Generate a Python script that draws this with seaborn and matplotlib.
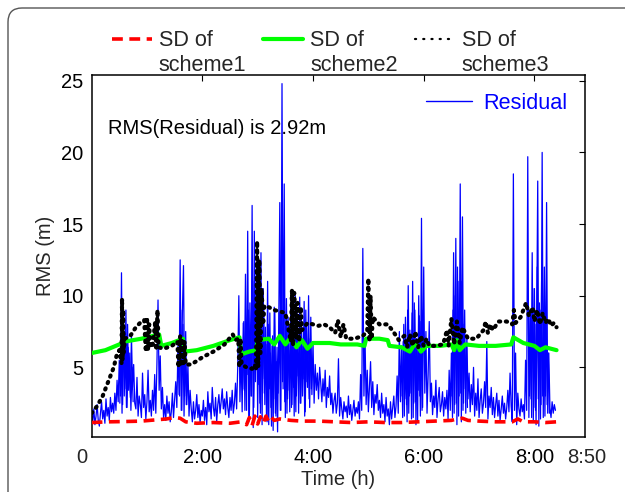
import numpy as np
import pandas as pd
import matplotlib
matplotlib.use("Agg")
import matplotlib.pyplot as plt
import seaborn as sns
from matplotlib.lines import Line2D
from matplotlib.patches import FancyBboxPatch
from matplotlib.transforms import IdentityTransform

sns.set_theme(style="white")
plt.rcParams['font.family'] = ['Liberation Sans', 'DejaVu Sans']

# ---------------- data (hours / metres) ----------------
res_step_h = 0.02
res_v = [
    1.7, 1.2, 2.1, 1.0, 1.6, 2.4, 1.3, 0.9, 1.8, 2.6, 1.4, 2.0, 1.1, 2.8, 1.6, 2.2, 1.3, 2.9, 1.9, 2.5,
    1.8, 3.2, 2.0, 4.1, 2.6, 5.5, 3.0, 11.6, 2.4, 7.8, 3.5, 9.0, 2.2, 6.4, 4.8, 2.9, 7.2, 3.6, 5.2, 2.5,
    2.1, 4.3, 1.6, 3.0, 2.4, 1.5, 4.6, 2.2, 3.1, 1.4, 2.6, 4.8, 1.9, 2.7, 1.6, 3.4, 2.0, 4.5, 1.8, 5.2,
    9.7, 3.4, 5.8, 2.1, 3.6, 1.5, 2.4, 1.3, 3.0, 1.8, 2.6, 1.2, 1.9, 3.2, 1.5, 2.8, 4.0, 2.2, 6.5, 3.1,
    12.5, 2.0, 8.8, 12.1, 3.0, 7.5, 2.4, 5.2, 1.6, 3.4, 2.1, 1.2, 2.6, 1.4, 2.0, 3.1, 1.5, 2.4, 1.1, 2.0,
    1.6, 2.7, 1.3, 2.2, 1.0, 3.3, 1.9, 2.5, 1.4, 3.6, 2.2, 1.6, 2.9, 1.2, 2.4, 3.1, 1.8, 2.6, 3.5, 2.1,
    2.8, 1.7, 3.3, 2.2, 1.5, 2.9, 2.0, 3.4, 1.8, 2.5, 3.9, 2.1, 5.0, 10.0, 2.6, 6.2, 1.9, 8.1, 3.4, 11.5,
    2.0, 14.5, 1.2, 9.5, 3.0, 16.3, 0.8, 14.5, 4.0, 12.0, 1.5, 8.5, 2.5, 13.0, 1.0, 10.5, 3.2, 7.8, 1.4, 11.0,
    1.0, 8.8, 2.2, 6.5, 0.6, 9.2, 1.8, 5.4, 0.5, 7.5, 16.5, 2.0, 24.8, 3.5, 17.8, 1.5, 9.8, 2.8, 8.0, 1.9,
    9.5, 2.4, 7.2, 1.6, 10.0, 3.0, 8.4, 1.8, 9.9, 2.5, 6.5, 4.2, 9.6, 1.9, 8.0, 3.6, 10.0, 2.2, 8.5, 3.1,
    6.8, 2.5, 5.2, 3.4, 4.6, 2.8, 5.0, 3.9, 2.6, 4.2, 3.0, 4.8, 2.2, 3.6, 2.9, 4.4, 2.4, 3.2, 1.8, 2.7,
    3.2, 1.8, 2.5, 5.6, 1.6, 2.9, 2.1, 1.4, 2.6, 1.9, 2.3, 1.5, 3.0, 1.7, 2.4, 1.3, 2.0, 2.7, 1.6, 2.2,
    1.8, 2.6, 1.4, 4.5, 2.0, 13.3, 3.0, 7.0, 2.4, 4.8, 1.9, 3.6, 5.4, 2.2, 4.0, 1.7, 3.1, 2.5, 3.8, 2.0,
    2.7, 1.5, 3.2, 1.8, 2.4, 1.2, 2.9, 1.6, 2.1, 1.0, 2.6, 1.4, 2.2, 3.0, 1.5, 2.3, 4.4, 1.8, 7.5, 2.6,
    6.5, 1.5, 8.0, 2.8, 5.2, 1.2, 10.7, 3.0, 7.2, 1.4, 11.0, 2.5, 9.0, 1.0, 6.4, 3.4, 8.6, 1.6, 15.4, 2.2,
    12.0, 3.2, 7.5, 1.8, 4.5, 8.2, 2.6, 3.9, 1.7, 3.0, 2.2, 4.1, 1.5, 2.8, 3.6, 1.9, 2.4, 3.3, 1.6, 2.9,
    2.1, 3.4, 1.4, 4.8, 2.0, 6.0, 1.5, 13.0, 2.4, 14.0, 1.0, 11.0, 3.0, 17.8, 1.2, 15.5, 2.5, 9.0, 1.8, 7.2,
    2.8, 4.6, 1.9, 3.8, 2.4, 5.0, 1.6, 3.2, 2.0, 4.2, 1.5, 2.7, 3.5, 1.8, 2.5, 4.0, 2.2, 6.8, 1.4, 3.0,
    2.2, 3.6, 1.7, 2.9, 1.5, 2.4, 3.2, 1.6, 2.7, 1.3, 2.1, 3.0, 1.8, 2.5, 1.4, 2.2, 3.4, 1.9, 4.6, 2.3,
    1.2, 18.5, 2.0, 6.0, 1.0, 3.2, 2.1, 1.6, 2.8, 1.9, 2.4, 1.4, 5.5, 2.0, 19.7, 1.5, 8.5, 2.8, 13.0, 1.2,
    10.5, 2.0, 7.5, 18.0, 0.9, 9.0, 2.4, 20.0, 1.5, 12.0, 3.0, 16.5, 1.8, 6.0, 2.2, 1.5, 2.6, 1.8, 2.4, 2.0,
]
res_t = np.arange(len(res_v)) * res_step_h

# extra residual samples (between the main samples) inside the busy stretches
dense_step_h = 0.02
dense_a_start, dense_a_v = 2.71, [
    6.0, 3.5, 8.2, 2.0, 7.0, 4.5, 9.0, 1.5, 6.8, 3.0, 11.0, 2.2, 8.0, 5.0, 9.5,
    3.8, 8.6, 1.8, 7.4, 4.2, 9.0, 2.4, 6.6, 1.2, 8.0, 3.5, 6.0, 0.9, 7.2, 2.8,
    9.0, 1.6, 6.4, 3.2, 8.8, 2.0, 12.0, 4.0, 9.5, 2.6, 7.5, 1.8, 8.5, 3.4, 6.2,
    2.2, 8.8, 3.6, 7.0, 1.9, 9.2, 4.4, 6.0, 2.5, 8.4, 3.0, 7.6, 1.6, 9.0, 4.0,
    6.5, 2.8, 7.0, 3.5, 5.5]
dense_b_start, dense_b_v = 5.61, [
    3.0, 6.8, 1.6, 8.5, 2.4, 9.0, 1.8, 7.6, 3.2, 8.8, 1.5, 9.5, 2.6, 7.0, 1.2, 10.0, 3.0, 8.2, 2.0, 9.0]
dense_c_start, dense_c_v = 6.51, [
    3.0, 9.0, 1.8, 10.0, 2.5, 12.0, 1.6, 9.5, 3.2, 11.0, 2.0, 8.0, 3.5, 6.5, 2.2]
dense_d_start, dense_d_v = 7.91, [
    3.0, 9.0, 1.5, 10.5, 2.2, 8.0, 1.0, 12.0, 2.8, 9.5, 1.4, 11.0, 3.0, 8.5, 1.6, 9.0, 2.4, 6.0, 1.8]
dense_e_start, dense_e_v = 0.51, [
    2.5, 7.0, 1.8, 8.5, 3.0, 6.5, 2.2, 8.0, 3.4, 6.0, 2.0, 5.0, 2.6]
dense_f_start, dense_f_v = 1.59, [3.0, 9.0, 2.0, 8.0, 1.6, 6.5, 2.4, 4.0]

sd1_t = [0, 0.3, 0.6, 0.9, 1.2, 1.35, 1.5, 1.6, 1.7, 1.9, 2.2, 2.5, 2.7, 2.8, 2.85, 2.9, 2.95, 3.0,
         3.05, 3.1, 3.15, 3.2, 3.25, 3.3, 3.4, 3.5, 3.6, 3.8, 4.1, 4.4, 4.7, 5.0, 5.3, 5.6, 5.9, 6.2,
         6.5, 6.6, 6.7, 6.8, 7.0, 7.3, 7.6, 7.7, 7.8, 8.0, 8.2, 8.4]
sd1_v = [1.15, 1.2, 1.22, 1.25, 1.35, 1.4, 1.5, 1.45, 1.2, 1.1, 1.15, 1.1, 1.2, 1.0, 1.5, 0.95,
         1.6, 1.05, 1.55, 1.1, 1.6, 1.2, 1.5, 1.3, 1.4, 1.35, 1.3, 1.25, 1.25, 1.2, 1.15, 1.2,
         1.15, 1.15, 1.2, 1.25, 1.3, 1.4, 1.45, 1.3, 1.25, 1.2, 1.2, 1.4, 1.2, 1.2, 1.15, 1.2]

sd2_t = [0, 0.25, 0.5, 0.6, 0.9, 1.22, 1.26, 1.45, 1.65, 1.68, 1.9, 2.2, 2.5, 2.67, 2.7, 2.85,
         2.97, 3.0, 3.2, 3.3, 3.4, 3.5, 3.6, 3.7, 3.8, 3.9, 4.0, 4.3, 4.5, 4.8, 4.93, 4.96, 5.2,
         5.35, 5.38, 5.6, 5.75, 5.85, 5.95, 6.05, 6.3, 6.5, 6.55, 6.6, 6.65, 6.75, 7.0, 7.3, 7.58,
         7.62, 7.8, 8.0, 8.1, 8.2, 8.4]
sd2_v = [6.0, 6.2, 6.6, 6.8, 7.0, 7.3, 6.5, 6.7, 7.0, 6.1, 6.2, 6.5, 6.9, 7.1, 5.9, 6.1,
         6.2, 6.9, 7.0, 6.6, 7.2, 6.6, 7.1, 6.4, 6.9, 6.3, 6.7, 6.7, 6.6, 6.6, 6.5, 7.0, 7.0,
         6.9, 6.5, 6.4, 6.1, 6.7, 6.1, 6.5, 6.5, 6.6, 6.2, 6.9, 6.2, 6.6, 6.5, 6.5, 6.6,
         7.1, 6.7, 6.5, 6.2, 6.4, 6.2]

sd3_t = [0.0, 0.1, 0.2, 0.3, 0.4, 0.45, 0.5,
         0.54, 0.55, 0.56, 0.57, 0.58, 0.6,
         0.7, 0.8, 0.9, 0.95,
         0.98, 1.0, 1.02, 1.04, 1.06,
         1.1, 1.15, 1.17, 1.19, 1.21,
         1.3, 1.45, 1.55,
         1.57, 1.6, 1.62, 1.64, 1.66, 1.68, 1.7,
         1.8, 2.0, 2.2, 2.4, 2.55, 2.6, 2.65,
         2.67, 2.69, 2.71,
         2.8, 2.9, 2.95,
         2.97, 2.99, 3.01, 3.03, 3.05, 3.07, 3.1, 3.12,
         3.2, 3.3, 3.4, 3.5,
         3.6, 3.62, 3.64, 3.66, 3.7, 3.72, 3.75, 3.78, 3.8,
         3.9, 4.0, 4.1, 4.2, 4.3,
         4.4, 4.45, 4.5, 4.55, 4.6, 4.75, 4.9, 4.98,
         5.0, 5.02, 5.04, 5.06, 5.08,
         5.2, 5.35, 5.45, 5.55,
         5.65, 5.7, 5.75, 5.8, 5.85, 5.9, 5.95, 6.0, 6.05, 6.1,
         6.2, 6.35,
         6.42, 6.45, 6.5, 6.55, 6.6, 6.65, 6.7,
         6.8, 6.95,
         7.08, 7.12, 7.16, 7.2, 7.25,
         7.35, 7.5, 7.6, 7.63, 7.66, 7.75, 7.85, 7.9,
         7.97, 8.0, 8.05, 8.1, 8.15, 8.2, 8.25, 8.3, 8.35, 8.4]
sd3_v = [1.8, 2.3, 3.0, 4.0, 5.0, 5.8, 6.2,
         5.3, 9.8, 5.5, 9.0, 6.0, 7.0,
         7.2, 7.8, 8.2, 8.3,
         6.1, 8.5, 6.2, 8.0, 6.5,
         6.4, 8.2, 6.2, 9.0, 6.4,
         6.3, 6.5, 6.8,
         5.0, 7.2, 5.1, 7.0, 5.3, 6.8, 5.2,
         5.2, 5.7, 6.1, 6.6, 7.3, 6.9, 7.0,
         5.0, 7.0, 5.2,
         5.0, 4.9, 5.2,
         4.8, 13.8, 5.0, 12.5, 6.0, 10.5, 8.0, 9.3,
         9.2, 9.0, 8.9, 8.8,
         6.8, 10.4, 6.5, 10.2, 7.0, 9.5, 6.8, 9.2, 7.6,
         8.1, 8.0, 7.9, 8.0, 7.8,
         7.4, 8.3, 7.1, 8.0, 7.0, 7.0, 7.2, 7.5,
         11.2, 6.8, 10.0, 7.0, 8.5,
         8.0, 8.0, 7.5, 6.9,
         7.2, 6.4, 7.3, 6.5, 7.5, 6.4, 7.2, 6.5, 7.0, 6.5,
         6.5, 6.6,
         7.6, 6.5, 8.4, 6.6, 8.2, 6.7, 7.8,
         7.0, 7.0,
         7.6, 8.2, 7.4, 8.0, 7.6,
         8.2, 8.2, 8.0, 9.0, 8.1, 8.5, 9.5, 8.6,
         9.2, 8.2, 9.0, 8.0, 8.8, 8.1, 8.4, 7.9, 8.1, 7.8]

legend_labels = ["SD of\nscheme1", "SD of\nscheme2", "SD of\nscheme3"]
resid_label = "Residual"
rms_text = "RMS(Residual) is 2.92m"
xtick_pos = [2, 4, 6, 8]
xtick_lab = ["2:00", "4:00", "6:00", "8:00"]
ytick_pos = [5, 10, 15, 20, 25]

# ---------------- figure ----------------
FS = 14.5
LFS = 15.6
W, H = 625, 492
fig = plt.figure(figsize=(W / 100, H / 100), dpi=100)
fig.patch.set_facecolor("white")
ax = fig.add_axes([91.6 / W, 1 - 437.3 / H, (585 - 91.6) / W, (437.3 - 75.3) / H])
ax.set_facecolor("white")

BLUE, RED, GREEN = "#0000ff", "#ff0000", "#00ff00"
red_ls = (0, (3.0, 1.8))
dot_ls = (0, (0.3, 1.35))

df_res = pd.DataFrame({"t": res_t, "v": res_v})
sns.lineplot(data=df_res, x="t", y="v", ax=ax, color=BLUE, lw=0.9,
             estimator=None, sort=False, zorder=2)
for start, vals in [(dense_a_start, dense_a_v), (dense_b_start, dense_b_v),
                    (dense_c_start, dense_c_v), (dense_d_start, dense_d_v),
                    (dense_e_start, dense_e_v), (dense_f_start, dense_f_v)]:
    dfd = pd.DataFrame({"t": start + np.arange(len(vals)) * dense_step_h, "v": vals})
    sns.lineplot(data=dfd, x="t", y="v", ax=ax, color=BLUE, lw=0.9,
                 estimator=None, sort=False, zorder=2)

df1 = pd.DataFrame({"t": sd1_t, "v": sd1_v})
df2 = pd.DataFrame({"t": sd2_t, "v": sd2_v})
df3 = pd.DataFrame({"t": sd3_t, "v": sd3_v})
sns.lineplot(data=df1, x="t", y="v", ax=ax, color=RED, lw=2.6,
             linestyle=red_ls, estimator=None, sort=False, zorder=3)
sns.lineplot(data=df2, x="t", y="v", ax=ax, color=GREEN, lw=3.0,
             estimator=None, sort=False, zorder=4)
sns.lineplot(data=df3, x="t", y="v", ax=ax, color="black", lw=3.0,
             linestyle=dot_ls, dash_capstyle="round", estimator=None, sort=False, zorder=5)

ax.set_xlim(0, 8.914)
ax.set_ylim(0.12, 25.38)
ax.set_xticks(xtick_pos)
ax.set_xticklabels(xtick_lab)
ax.set_yticks(ytick_pos)
ax.tick_params(direction="in", length=4, width=0.8, top=True, right=True,
               labelsize=FS, colors="black", pad=8)
ax.tick_params(axis="y", pad=6)
for s in ax.spines.values():
    s.set_color("black")
    s.set_linewidth(1.1)

ax.set_xlabel("Time (h)", fontsize=FS, labelpad=2)
ax.set_ylabel("RMS (m)", fontsize=FS, labelpad=4)

for xv, lab in [(-0.18, "0"), (8.94, "8:50")]:
    ax.annotate(lab, xy=(xv, 0), xycoords=("data", "axes fraction"),
                xytext=(0, -8), textcoords="offset points", ha="center", va="top",
                fontsize=FS, annotation_clip=False)

ax.text(0.30, 21.7, rms_text, fontsize=FS, va="center", ha="left", color="black")

# residual legend
rl = ax.legend(handles=[Line2D([], [], color=BLUE, lw=1.0)], labels=[resid_label],
               loc="upper right", bbox_to_anchor=(1.0, 1.0), frameon=False,
               fontsize=LFS, labelcolor=BLUE, handlelength=2.1, handletextpad=0.55,
               borderaxespad=0.5, borderpad=0.3)

# top legend
h_red = Line2D([], [], color=RED, lw=2.6, linestyle=red_ls)
h_grn = Line2D([], [], color=GREEN, lw=3.0)
h_blk = Line2D([], [], color="black", lw=1.6, linestyle=(0, (0.5, 3.2)), dash_capstyle="round")
tl = fig.legend(handles=[h_red, h_grn, h_blk], labels=legend_labels, ncol=3,
                loc="upper left", bbox_to_anchor=(101 / W, 1 - 19 / H), frameon=False,
                fontsize=LFS, handlelength=1.85, handletextpad=0.32, columnspacing=0.78,
                borderpad=0.0)
for t in tl.get_texts():
    t.set_linespacing(1.25)
for ln in tl.get_lines():
    ln.set_ydata(np.asarray(ln.get_ydata(), dtype=float) + 10.5)

# outer rounded frame
frame = FancyBboxPatch((8, -60), 800, H - 8 + 60,
                       boxstyle="round,pad=0,rounding_size=14",
                       transform=IdentityTransform(), fill=False,
                       ec="#555555", lw=1.0)
fig.add_artist(frame)

fig.savefig("out.png", dpi=100)
